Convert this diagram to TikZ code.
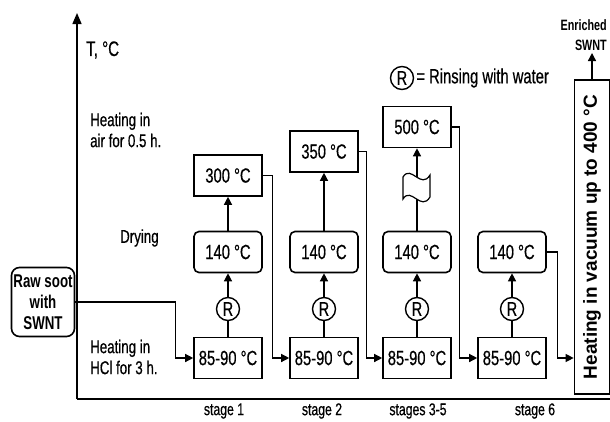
\documentclass[tikz,border=0pt]{standalone}
\usepackage{fontspec}
\setmainfont{Liberation Sans}[FakeStretch=0.72, UprightFeatures={FakeBold=0.5}]
\newfontfamily\vacfont{Liberation Sans}
\usetikzlibrary{arrows.meta, positioning}

\begin{document}
\begin{tikzpicture}[
  x=1pt, y=-1pt,
  every node/.style={inner sep=2pt},
  hclbox/.style={rectangle, draw, line width=1.6pt, minimum width=68pt,
    minimum height=41pt, font=\fontsize{20.5}{20}\selectfont},
  drybox/.style={hclbox, rounded corners=5pt},
  airbox/.style={hclbox},
  rawbox/.style={hclbox, rounded corners=8pt, minimum width=63pt,
    minimum height=69pt, inner sep=1pt, align=center,
    font=\bfseries\fontsize{18.5}{21}\selectfont},
  vacbox/.style={rectangle, draw, line width=1.7pt, minimum width=314pt,
    minimum height=35pt, font=\vacfont\bfseries\fontsize{19}{19}\selectfont},
  rinse/.style={circle, draw, line width=1.4pt, minimum size=23pt,
    inner sep=0pt, font=\fontsize{20}{20}\selectfont},
  lbl/.style={align=left, anchor=west, font=\fontsize{18.5}{21}\selectfont},
  stagelbl/.style={font=\fontsize{17}{17}\selectfont},
  flow/.style={draw, line width=1.3pt, -{Triangle[length=8pt, width=8pt]}},
  link/.style={draw, line width=1.3pt}
]
\fill[white] (0,0) rectangle (610,421);
\useasboundingbox (0,0) rectangle (610,421);

\coordinate (orig) at (77,399);
\coordinate (ytop) at (77,13);
\coordinate (xend) at (610,399);
\draw[line width=1.5pt, -{Triangle[length=11pt, width=9pt]}] (orig) -- (ytop);
\draw[line width=1.5pt] (orig) -- (xend);

\node[lbl, font=\fontsize{21}{21}\selectfont] (tlbl) at (84,50) {T, °C};
\node[lbl] (airlbl) at (88,130) {Heating in\\air for 0.5 h.};
\node[lbl] (drylbl) at (118,238) {Drying};
\node[lbl] (hcllbl) at (88,357) {Heating in\\HCl for 3 h.};

\node[stagelbl] (st1) at (224,411) {stage 1};
\node[stagelbl] (st2) at (322,411) {stage 2};
\node[stagelbl] (st3) at (418,411) {stages 3-5};
\node[stagelbl] (st6) at (535,411) {stage 6};

\node[rinse] (leg) at (402,78) {R};
\node[lbl, right=0pt of leg, font=\fontsize{20.5}{20.5}\selectfont] (legtxt) {= Rinsing with water};

\node[rawbox] (raw) at (43,302) {Raw soot\\with\\SWNT};

\node[hclbox] (hcl1) at (228,358) {85-90 °C};
\node[rinse] (r1) at (228,309) {R};
\node[drybox] (dry1) at (228,252) {140 °C};
\node[airbox] (air1) at (228,175.5) {300 °C};

\node[hclbox] (hcl2) at (324,358) {85-90 °C};
\node[rinse] (r2) at (324,309) {R};
\node[drybox] (dry2) at (324,252) {140 °C};
\node[airbox] (air2) at (324,151.5) {350 °C};

\node[hclbox] (hcl3) at (417,358) {85-90 °C};
\node[rinse] (r3) at (417,309) {R};
\node[drybox] (dry3) at (417,252) {140 °C};
\node[airbox] (air3) at (417,127) {500 °C};

\node[hclbox] (hcl4) at (512,358) {85-90 °C};
\node[rinse] (r4) at (512,309) {R};
\node[drybox] (dry4) at (512,252) {140 °C};

\node[vacbox, rotate=90] (vac) at (592,237) {Heating in vacuum up to 400 °C};
\node[align=right, anchor=south east, font=\bfseries\fontsize{15}{20}\selectfont]
  (enr) at (609,53) {Enriched\\SWNT};

\draw[flow] (raw.east) -- ++(100,0) |- (hcl1.west);
\draw[link] (hcl1) -- (r1);
\draw[flow] (r1) -- (dry1);
\draw[flow] (dry1) -- (air1);
\draw[flow] (air1.east) -- ++(10,0) |- (hcl2.west);

\draw[link] (hcl2) -- (r2);
\draw[flow] (r2) -- (dry2);
\draw[flow] (dry2) -- (air2);
\draw[flow] (air2.east) -- ++(8,0) |- (hcl3.west);

\draw[link] (hcl3) -- (r3);
\draw[flow] (r3) -- (dry3);
\draw[flow] (dry3) -- (air3);
\draw[line width=1.2pt, fill=white] (403,177) .. controls (411,164) and (421,190) .. (430,175)
  -- (430,197) .. controls (421,212) and (411,186) .. (403,199) -- cycle;
\draw[flow] (air3.east) -- ++(8,0) |- (hcl4.west);

\draw[link] (hcl4) -- (r4);
\draw[flow] (r4) -- (dry4);
\draw[flow] (dry4.east) -- ++(11,0) |- (vac.north |- hcl4);
\draw[flow] (vac.east) -- (vac.east |- enr.south);

\end{tikzpicture}
\end{document}
